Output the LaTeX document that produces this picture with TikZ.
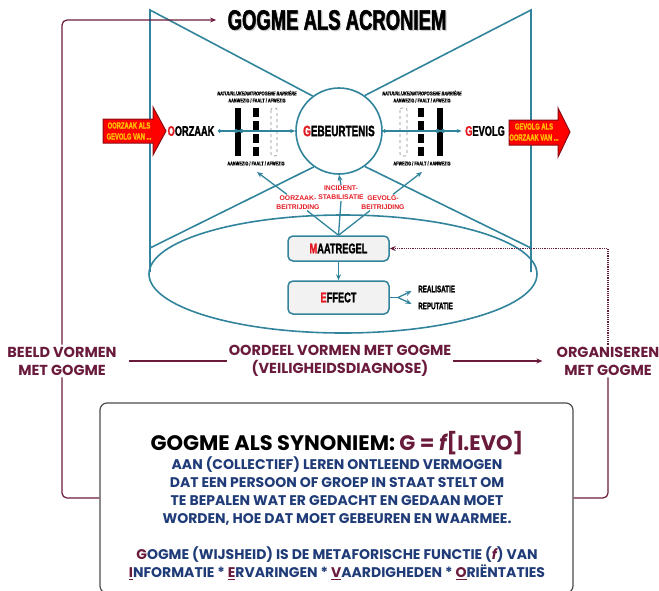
\documentclass[tikz,border=0pt]{standalone}
\usepackage{fontspec}
\setmainfont{Liberation Sans}
\newfontfamily\impact[FakeStretch=0.66,FakeBold=1.6]{Liberation Sans}
\newfontfamily\impactl[FakeStretch=0.7,FakeBold=0.6]{Liberation Sans}
\newfontfamily\pop{Poppins}
\usetikzlibrary{arrows.meta,calc}
\definecolor{tealc}{HTML}{31849B}
\definecolor{marc}{HTML}{6A1B3C}
\definecolor{navc}{HTML}{1F3B78}
\definecolor{goldc}{HTML}{FFC000}
\definecolor{redc}{HTML}{E31B23}
\definecolor{darkredc}{HTML}{8B0A14}
\begin{document}
\begin{tikzpicture}[x=1pt,y=-1pt,
  tl/.style={draw=tealc, line width=1.6pt},
  con/.style={draw=tealc, line width=1.3pt},
  arr/.style={-{Stealth[length=6pt,width=5pt]}},
  mcon/.style={draw=marc, line width=1.2pt},
  heavy/.style={font=\impact\bfseries\fontsize{#1}{#1}\selectfont},
  tiny/.style={font=\impactl\bfseries\fontsize{5.5}{6}\selectfont, inner sep=0pt},
  tinyit/.style={font=\impactl\bfseries\itshape\fontsize{5.5}{6}\selectfont, inner sep=0pt},
  redlab/.style={font=\bfseries\fontsize{6.8}{9}\selectfont, text=redc, align=center, inner sep=1pt},
  arrtext/.style={font=\impact\bfseries\fontsize{8.8}{11}\selectfont, text=goldc, align=center, inner sep=0pt},
  mbox/.style={draw=tealc, line width=1.5pt, fill=black!5, rounded corners=5pt, minimum width=101pt, heavy=14},
  lab/.style={font=\pop\bfseries\fontsize{14.5}{18}\selectfont, text=marc, align=center, inner sep=2pt},
  redarrow/.style={fill=red, draw=darkredc, line width=1pt, line join=miter}
]
\useasboundingbox (0,0) rectangle (659,590);

% title
\node[heavy=28, text=black!18] at (338.2,21.2) {GOGME ALS ACRONIEM};
\node[heavy=28] (title) at (337,20) {GOGME ALS ACRONIEM};

% event circle
\node[circle, draw=tealc, line width=1.6pt, fill=white, minimum size=86pt, inner sep=0pt, heavy=15] (ev) at (339,131) {{\color{redc}G}EBEURTENIS};

% hourglass frame
\draw[tl] (150,272) -- (150,10) -- (ev.127);
\draw[tl] (531,272) -- (531,10) -- (ev.54);
\draw[tl] (150,248) -- (ev.235);
\draw[tl] (531,248) -- (ev.306);
\draw[tl] (343,274) ellipse [x radius=194, y radius=59];

% red arrows
\draw[redarrow] (103,119) -- (153,119) -- (153,107) -- (166,131) -- (153,155) -- (153,143) -- (103,143) -- cycle;
\node[arrtext] (oa) at (129,131) {OORZAAK ALS\\GEVOLG VAN ...};
\draw[redarrow] (509,120) -- (558,120) -- (558,108) -- (570,132) -- (558,157) -- (558,145) -- (509,145) -- cycle;
\node[arrtext] (ga) at (534,132) {GEVOLG ALS\\OORZAAK VAN ...};

% cause / effect labels
\node[heavy=14] (oz) at (191,131) {{\color{redc}O}ORZAAK};
\node[heavy=14] (gv) at (485,131) {{\color{redc}G}EVOLG};

% barriers left
\fill (235,108) rectangle (241,156);
\foreach \i in {0,1,2,3} \fill (253,108+13*\i) rectangle (259,117+13*\i);
\draw[black!45, dashed, line width=0.6pt, rounded corners=2pt] (271,108) rectangle (277,156);
% barriers right
\draw[black!45, dashed, line width=0.6pt, rounded corners=2pt] (400,108) rectangle (407,156);
\foreach \i in {0,1,2,3} \fill (418,108+13*\i) rectangle (424,117+13*\i);
\fill (437,108) rectangle (443,156);

\node[tinyit] (lt1) at (257,93) {NATUURLIJKE/ANTROPOGENE BARRIÈRE};
\node[tiny] (lt2) at (257,100.5) {AANWEZIG / FAALT / AFWEZIG};
\node[tiny] (lb1) at (256,163.5) {AANWEZIG / FAALT / AFWEZIG};
\node[tinyit] (rt1) at (422,93) {NATUURLIJKE/ANTROPOGENE BARRIÈRE};
\node[tiny] (rt2) at (422,100.5) {AANWEZIG / FAALT / AFWEZIG};
\node[tiny] (rb1) at (422,163.5) {AFWEZIG / FAALT / AANWEZIG};

% main causal line
\draw[con, {Circle[length=3.5pt]}-{Stealth[length=5pt,width=4pt]}] (oz.east) -- (ev.west);
\fill[tealc] (236,131) circle (2pt) (241.5,131) circle (2pt);
\draw[con, {Circle[length=3.5pt]}-{Stealth[length=5pt,width=4pt]}] (ev.east) -- (gv.west);
\fill[tealc] (437.5,131) circle (2pt) (443,131) circle (2pt);

% red measure labels
\node[redlab] (ob) at (298,202.5) {OORZAAK-\\BEITRIJDING};
\node[redlab] (is) at (341,193) {INCIDENT-\\STABILISATIE};
\node[redlab] (gb) at (383,202.5) {GEVOLG-\\BEITRIJDING};

% maatregel / effect
\node[mbox, minimum height=25pt] (mt) at (338.5,248.5) {{\color{redc}M}AATREGEL};
\node[mbox, minimum height=33pt] (ef) at (338.5,297.5) {{\color{redc}E}FFECT};
\node[heavy=9.5, anchor=west, inner sep=2pt] (rea) at (416,289) {REALISATIE};
\node[heavy=9.5, anchor=west, inner sep=2pt] (rep) at (416,306) {REPUTATIE};

\coordinate (lbar) at (257,172);
\coordinate (rbar) at (422,172);
\coordinate (fk) at (398,297.5);

\draw[con, arr] (mt.south) -- (ef.north);
\draw[con] (mt.north) -- ($(ob.south)+(9,0)$);
\draw[con] (mt.north) -- (is.south);
\draw[con] (mt.north) -- ($(gb.south)+(-13,0)$);
\draw[con, arr] ($(ob.north)+(-11,0)$) -- (lbar);
\draw[con, arr] ($(gb.north)+(10,0)$) -- (rbar);
\draw[con, arr] (is.north) -- (ev.south);
\draw[con] (ef.east) -- (fk);
\draw[con, arr, shorten >=5pt] (fk) -- (rea.west);
\draw[con, arr, shorten >=5pt] (fk) -- (rep.west);

% bottom box
\node[draw=black!70, line width=1.2pt, rounded corners=7pt, minimum width=473pt, minimum height=190pt, fill=white] (box) at (336.5,498) {};

% maroon labels
\node[lab] (beeld) at (62,361) {BEELD VORMEN\\MET GOGME};
\node[lab] (oord) at (340,361) {OORDEEL VORMEN MET GOGME\\(VEILIGHEIDSDIAGNOSE)};
\node[lab] (org) at (608,361) {ORGANISEREN\\MET GOGME};

\draw[mcon, shorten <=10pt] (beeld.east) -- (oord.west);
\draw[mcon, arr, shorten >=12pt] (oord.east) -- (org.west);
\draw[mcon, arr, rounded corners=5pt] (beeld.north) |- ([xshift=-8pt]title.west);
\draw[mcon, rounded corners=5pt] (beeld.south) |- (box.west);
\draw[mcon, rounded corners=5pt] (org.south) |- (box.east);
\draw[mcon, densely dotted, arr] (org.north) |- (mt.east);

% box texts
\node[font=\pop\bfseries\fontsize{21}{24}\selectfont] (syn) at (337,443) {GOGME ALS SYNONIEM: {\color{marc}G = {\itshape f}[I.EVO]}};
\node[font=\pop\bfseries\fontsize{14}{17.7}\selectfont, text=navc, align=center] (def) at (337,491) {AAN (COLLECTIEF) LEREN ONTLEEND VERMOGEN\\DAT EEN PERSOON OF GROEP IN STAAT STELT OM\\TE BEPALEN WAT ER GEDACHT EN GEDAAN MOET\\WORDEN, HOE DAT MOET GEBEUREN EN WAARMEE.};
\node[font=\pop\bfseries\fontsize{14}{18}\selectfont, text=navc, align=center] (fn) at (337,563) {{\color{marc}G}OGME (WIJSHEID) IS DE METAFORISCHE FUNCTIE ({\color{marc}\itshape f}) VAN\\{\color{marc}\underline{I}}NFORMATIE * {\color{marc}\underline{E}}RVARINGEN * {\color{marc}\underline{V}}AARDIGHEDEN * {\color{marc}\underline{O}}RIËNTATIES};
\end{tikzpicture}
\end{document}
